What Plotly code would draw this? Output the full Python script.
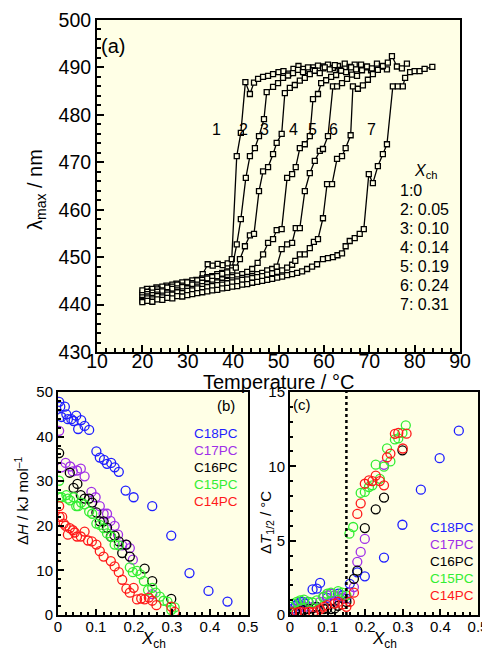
import plotly.graph_objects as go

# ---------------- Panel (a) data: lambda_max vs temperature ----------------
T1 = [20.0, 21.0, 22.0, 23.1, 24.2, 25.3, 26.4, 27.5, 28.6, 29.7, 30.8, 31.9, 33.3, 34.4, 35.5, 36.6, 37.7, 38.8, 39.7, 40.8, 41.7, 42.7, 43.7, 44.6, 45.5, 46.6, 47.7, 48.8, 50.0, 51.1, 52.2, 53.3, 54.4, 55.5, 56.6, 57.7, 58.8, 59.9]
L1 = [442.5, 443.3, 442.8, 443.6, 443.2, 444.0, 443.6, 444.4, 444.1, 444.8, 444.5, 445.2, 446.4, 448.5, 448.2, 448.6, 448.3, 448.7, 449.6, 471.3, 476.2, 486.9, 484.4, 486.8, 487.6, 488.0, 488.2, 488.6, 489.0, 489.2, 488.7, 489.7, 490.3, 489.7, 489.2, 490.0, 489.5, 490.2]

T2 = [20.0, 21.1, 22.2, 23.3, 24.4, 25.5, 26.6, 27.7, 28.8, 29.9, 31.0, 32.1, 33.2, 34.3, 35.4, 36.5, 37.6, 38.7, 39.8, 40.8, 41.7, 42.8, 43.7, 44.8, 45.7, 46.8, 47.4, 48.8, 49.9, 51.0, 52.1, 53.2, 54.3, 55.4, 56.5, 57.6, 58.7, 59.8, 60.9, 62.0, 63.1]
L2 = [443.0, 442.4, 443.3, 442.9, 443.8, 443.5, 444.2, 444.0, 444.7, 444.5, 445.1, 444.9, 445.5, 445.8, 446.0, 446.4, 446.7, 447.0, 447.8, 452.7, 458.0, 466.7, 471.3, 473.0, 475.5, 479.1, 484.8, 485.9, 486.7, 487.8, 488.3, 488.8, 489.5, 489.0, 490.0, 489.4, 490.4, 489.8, 490.6, 489.9, 490.3]

T3 = [20.0, 21.1, 22.2, 23.3, 24.4, 25.5, 26.6, 27.7, 28.8, 29.9, 31.0, 32.1, 33.2, 34.3, 35.4, 36.5, 37.6, 38.7, 39.8, 40.6, 41.5, 42.6, 43.7, 44.6, 45.7, 46.6, 47.7, 48.8, 49.6, 50.7, 51.4, 52.5, 53.6, 54.7, 55.8, 56.9, 58.0, 59.1, 60.2, 61.3, 62.4, 63.5, 64.6, 65.7, 66.8]
L3 = [442.0, 442.7, 442.5, 443.2, 443.0, 443.6, 443.8, 444.2, 444.0, 444.7, 444.5, 445.1, 445.2, 445.5, 445.8, 446.0, 446.5, 446.8, 447.2, 447.8, 449.6, 452.3, 454.6, 454.9, 463.9, 468.1, 469.0, 471.7, 474.1, 476.0, 484.6, 485.7, 486.3, 487.2, 487.8, 488.6, 489.3, 488.8, 490.0, 489.6, 490.5, 489.5, 490.8, 490.1, 490.6]

T4 = [20.0, 21.1, 22.2, 23.3, 24.4, 25.5, 26.6, 27.7, 28.8, 29.9, 31.0, 32.1, 33.2, 34.3, 35.4, 36.5, 37.6, 38.7, 39.8, 40.9, 42.0, 43.1, 44.2, 45.4, 46.6, 47.7, 48.8, 49.6, 50.7, 51.9, 53.0, 53.8, 54.7, 55.8, 56.9, 57.6, 58.7, 59.4, 60.5, 61.6, 62.7, 63.8, 64.9, 66.0, 67.1, 68.2, 69.3, 70.4]
L4 = [441.5, 442.2, 442.0, 442.7, 442.8, 442.6, 443.3, 443.4, 443.7, 443.5, 444.2, 444.2, 444.6, 444.4, 445.0, 444.9, 445.3, 445.2, 445.8, 446.1, 446.4, 446.9, 447.5, 448.8, 450.6, 453.0, 453.8, 455.7, 455.9, 466.7, 467.5, 469.0, 473.0, 473.8, 475.5, 483.3, 484.4, 486.7, 487.3, 488.0, 488.4, 489.3, 489.0, 490.0, 489.6, 490.6, 490.0, 489.4]

T5 = [20.0, 21.1, 22.2, 23.3, 24.4, 25.5, 26.6, 27.7, 28.8, 29.9, 31.0, 32.1, 33.2, 34.3, 35.4, 36.5, 37.6, 38.7, 39.8, 40.9, 42.0, 43.1, 44.2, 45.3, 46.4, 47.5, 48.6, 49.6, 50.7, 51.9, 53.0, 53.8, 54.7, 55.8, 56.9, 58.0, 59.1, 59.8, 60.9, 62.0, 62.9, 64.0, 65.1, 66.2, 67.3, 68.4, 69.5, 70.6, 71.7, 72.8, 73.9]
L5 = [441.0, 441.7, 441.4, 442.1, 441.9, 442.5, 442.3, 443.0, 442.8, 443.4, 443.3, 443.8, 443.9, 444.3, 444.2, 444.7, 444.6, 445.0, 445.1, 445.3, 445.6, 445.8, 446.0, 446.4, 446.7, 447.2, 447.5, 448.0, 451.7, 452.7, 453.0, 456.1, 456.1, 463.9, 467.7, 470.3, 472.4, 472.8, 475.5, 486.0, 486.0, 486.7, 487.6, 488.5, 488.2, 489.4, 490.2, 489.8, 490.8, 490.2, 489.6]

T6 = [20.0, 21.1, 22.2, 23.3, 24.4, 25.5, 26.6, 27.7, 28.8, 29.9, 31.0, 32.1, 33.2, 34.3, 35.4, 36.5, 37.6, 38.7, 39.8, 40.9, 42.0, 43.1, 44.2, 45.3, 46.4, 47.5, 48.6, 49.7, 50.8, 51.9, 53.0, 53.7, 54.7, 55.8, 56.9, 57.8, 58.7, 59.8, 60.7, 61.8, 62.9, 64.0, 64.8, 65.9, 66.4, 67.5, 68.6, 69.7, 70.8, 71.9, 73.0, 74.1, 75.0, 76.1, 77.2, 78.3]
L6 = [440.8, 441.3, 441.1, 441.8, 441.5, 442.1, 442.1, 442.6, 442.4, 442.9, 443.0, 443.4, 443.3, 443.7, 443.9, 444.1, 444.2, 444.5, 444.7, 444.9, 445.2, 445.3, 445.6, 445.8, 446.0, 446.3, 446.6, 446.9, 447.2, 447.8, 448.4, 449.2, 450.6, 450.6, 451.9, 453.2, 453.8, 458.2, 465.4, 465.4, 470.7, 471.3, 473.0, 475.7, 486.0, 485.5, 486.2, 487.4, 488.6, 489.5, 490.3, 491.0, 492.4, 490.2, 489.8, 490.8]

T7 = [20.0, 21.1, 22.2, 23.3, 24.4, 25.5, 26.6, 27.7, 28.8, 29.9, 31.0, 32.1, 33.2, 34.3, 35.4, 36.5, 37.6, 38.7, 39.8, 40.9, 42.0, 43.1, 44.2, 45.3, 46.4, 47.5, 48.6, 49.7, 50.8, 51.9, 53.0, 54.1, 55.2, 56.3, 57.4, 58.5, 59.8, 60.9, 62.0, 63.0, 64.0, 64.8, 65.7, 66.8, 67.9, 68.8, 69.9, 70.8, 71.9, 73.0, 73.9, 75.2, 76.3, 77.4, 77.9, 79.0, 80.0, 81.1, 82.2, 83.9]
L7 = [440.5, 440.8, 440.6, 441.1, 441.0, 441.4, 441.3, 441.8, 441.7, 442.0, 442.2, 442.4, 442.6, 442.8, 443.0, 443.1, 443.4, 443.5, 443.8, 443.9, 444.2, 444.3, 444.6, 444.8, 445.0, 445.2, 445.4, 445.7, 445.9, 446.2, 446.4, 446.7, 447.0, 447.5, 448.0, 448.5, 449.6, 449.8, 450.0, 450.4, 450.8, 452.3, 453.4, 454.0, 454.9, 455.9, 467.5, 465.6, 469.2, 471.7, 473.8, 486.0, 486.0, 486.0, 487.8, 489.0, 489.2, 489.2, 489.7, 490.1]

curve_T = [T1, T2, T3, T4, T5, T6, T7]
curve_L = [L1, L2, L3, L4, L5, L6, L7]
curve_ids = ["1", "2", "3", "4", "5", "6", "7"]
xch_values = ["0", "0.05", "0.10", "0.14", "0.19", "0.24", "0.31"]
label_T = [36.4, 42.2, 47.0, 53.2, 57.6, 62.2, 70.4]
label_L = [477.0] * 7

# ---------------- Panel (b) data: Delta H vs Xch ----------------
b18_x = [0.003, 0.006, 0.018, 0.009, 0.022, 0.026, 0.035, 0.041, 0.048, 0.053, 0.061, 0.070, 0.082, 0.101, 0.110, 0.121, 0.129, 0.140, 0.149, 0.160, 0.178, 0.199, 0.248, 0.298, 0.346, 0.396, 0.446]
b18_y = [47.8, 46.7, 46.7, 44.4, 45.0, 43.9, 43.9, 43.5, 44.7, 41.7, 43.7, 42.4, 41.5, 36.7, 35.3, 34.8, 33.9, 34.1, 33.1, 32.1, 27.9, 26.4, 24.4, 17.8, 9.4, 5.4, 3.0]
b17_x = [0.003, 0.009, 0.020, 0.032, 0.039, 0.050, 0.060, 0.070, 0.088, 0.099, 0.110, 0.120, 0.129, 0.138, 0.149, 0.158, 0.169, 0.178, 0.189, 0.197, 0.248]
b17_y = [41.3, 33.1, 34.1, 33.3, 32.2, 32.4, 32.8, 31.1, 27.6, 26.4, 24.4, 22.7, 22.7, 21.1, 20.0, 18.0, 15.6, 15.8, 15.0, 12.4, 4.7]
b16_x = [0.003, 0.031, 0.041, 0.051, 0.060, 0.070, 0.082, 0.090, 0.101, 0.110, 0.120, 0.129, 0.139, 0.149, 0.160, 0.169, 0.180, 0.189, 0.228, 0.248, 0.298]
b16_y = [36.3, 31.9, 28.5, 29.4, 26.9, 26.1, 26.1, 25.2, 23.0, 21.0, 21.0, 19.6, 17.6, 17.8, 16.5, 13.9, 15.8, 13.1, 10.4, 7.6, 3.6]
b15_x = [0.003, 0.003, 0.009, 0.022, 0.026, 0.032, 0.041, 0.048, 0.053, 0.061, 0.070, 0.082, 0.090, 0.101, 0.110, 0.120, 0.129, 0.140, 0.149, 0.160, 0.189, 0.197, 0.208, 0.217, 0.226, 0.237, 0.248, 0.257, 0.268, 0.278, 0.288, 0.298, 0.307]
b15_y = [30.1, 26.4, 26.4, 26.9, 26.1, 25.7, 26.4, 24.4, 24.4, 25.2, 24.8, 23.2, 22.7, 20.5, 20.2, 19.5, 18.3, 17.6, 15.8, 15.6, 10.7, 9.6, 9.9, 9.1, 7.6, 5.6, 6.1, 5.0, 4.1, 3.2, 3.0, 1.1, 1.7]
b14_x = [0.003, 0.004, 0.011, 0.015, 0.020, 0.026, 0.031, 0.039, 0.044, 0.050, 0.060, 0.070, 0.079, 0.089, 0.101, 0.110, 0.120, 0.139, 0.149, 0.160, 0.169, 0.180, 0.189, 0.199, 0.208, 0.219, 0.228, 0.239, 0.248, 0.259, 0.298, 0.307]
b14_y = [24.4, 22.0, 22.0, 20.5, 20.0, 18.0, 19.5, 19.0, 18.5, 17.6, 17.6, 18.7, 16.7, 16.5, 15.8, 14.3, 13.1, 12.1, 10.9, 9.6, 7.9, 5.9, 5.0, 6.1, 3.5, 3.7, 3.5, 3.9, 3.2, 2.2, 1.9, 0.7]

# ---------------- Panel (c) data: Delta T1/2 vs Xch ----------------
c18_x = [0.004, 0.009, 0.016, 0.022, 0.028, 0.035, 0.040, 0.049, 0.060, 0.071, 0.080, 0.099, 0.109, 0.119, 0.128, 0.139, 0.150, 0.159, 0.179, 0.199, 0.250, 0.299, 0.348, 0.398, 0.449]
c18_y = [0.26, 0.44, 0.66, 0.77, 0.88, 0.88, 0.77, 0.88, 1.72, 1.77, 2.16, 1.15, 0.93, 0.93, 1.43, 1.32, 1.10, 2.10, 2.87, 2.60, 3.86, 6.07, 8.43, 10.55, 12.4]
c17_x = [0.004, 0.013, 0.022, 0.031, 0.040, 0.060, 0.071, 0.080, 0.090, 0.099, 0.109, 0.119, 0.128, 0.139, 0.158, 0.170, 0.179, 0.188, 0.199, 0.250]
c17_y = [0.22, 0.33, 0.44, 0.51, 0.55, 0.55, 0.51, 0.88, 1.21, 1.32, 1.43, 1.32, 1.21, 1.15, 1.50, 1.88, 3.58, 4.24, 5.12, 10.1]
c16_x = [0.004, 0.013, 0.025, 0.037, 0.049, 0.060, 0.071, 0.090, 0.099, 0.109, 0.119, 0.128, 0.150, 0.170, 0.179, 0.199, 0.228, 0.250, 0.299]
c16_y = [0.18, 0.22, 0.26, 0.33, 0.40, 0.44, 0.55, 0.40, 0.44, 0.40, 0.44, 0.62, 0.88, 2.43, 2.98, 5.85, 7.11, 7.90, 11.08]
c15_x = [0.000, 0.009, 0.018, 0.027, 0.037, 0.049, 0.060, 0.071, 0.088, 0.099, 0.109, 0.128, 0.139, 0.150, 0.158, 0.168, 0.188, 0.199, 0.210, 0.219, 0.228, 0.239, 0.250, 0.258, 0.267, 0.279, 0.288, 0.299, 0.308]
c15_y = [0.55, 0.77, 0.88, 0.99, 1.04, 0.88, 0.84, 0.99, 1.21, 1.43, 1.50, 1.61, 1.50, 1.32, 5.47, 5.92, 8.21, 8.28, 8.61, 8.72, 10.11, 9.16, 9.98, 11.21, 10.33, 11.81, 11.88, 12.25, 12.76]
c14_x = [0.004, 0.018, 0.028, 0.040, 0.051, 0.062, 0.071, 0.080, 0.090, 0.099, 0.119, 0.128, 0.139, 0.150, 0.159, 0.170, 0.179, 0.188, 0.199, 0.210, 0.219, 0.228, 0.239, 0.250, 0.258, 0.267, 0.279, 0.288, 0.300, 0.310]
c14_y = [0.18, 0.18, 0.22, 0.18, 0.22, 0.18, 0.26, 0.38, 0.55, 0.66, 0.77, 0.88, 0.71, 0.55, 0.88, 1.50, 6.80, 7.51, 8.83, 9.05, 9.01, 9.38, 9.01, 8.72, 10.60, 10.86, 12.19, 12.25, 11.20, 12.20]

series_names = ["C18PC", "C17PC", "C16PC", "C15PC", "C14PC"]
series_colors = ["#1f1fff", "#a030e8", "#000000", "#33ee33", "#ff1a1a"]
b_x = [b18_x, b17_x, b16_x, b15_x, b14_x]
b_y = [b18_y, b17_y, b16_y, b15_y, b14_y]
c_x = [c18_x, c17_x, c16_x, c15_x, c14_x]
c_y = [c18_y, c17_y, c16_y, c15_y, c14_y]

BG = "#ffffe6"
FONT = "Liberation Sans, Arial, sans-serif"

fig = go.Figure()

for T, L in zip(curve_T, curve_L):
    fig.add_trace(go.Scatter(
        x=T, y=L, mode="lines+markers", xaxis="x", yaxis="y",
        line=dict(color="black", width=1.3),
        marker=dict(symbol="square", size=5, color=BG, line=dict(color="black", width=1.3)),
        showlegend=False, hoverinfo="skip"))

for xs, ys, col in zip(b_x, b_y, series_colors):
    fig.add_trace(go.Scatter(
        x=xs, y=ys, mode="markers", xaxis="x2", yaxis="y2",
        marker=dict(symbol="circle-open", size=9, color=col, line=dict(color=col, width=1.3)),
        showlegend=False, hoverinfo="skip"))

for xs, ys, col in zip(c_x, c_y, series_colors):
    fig.add_trace(go.Scatter(
        x=xs, y=ys, mode="markers", xaxis="x3", yaxis="y3",
        marker=dict(symbol="circle-open", size=9, color=col, line=dict(color=col, width=1.3)),
        showlegend=False, hoverinfo="skip"))

# The page body adds an 8 px margin, so the figure is made 8 px smaller and
# all page-pixel positions below are shifted by that offset.
OFF = 8
W, H = 490 - OFF, 650 - OFF
def px_x(p):
    return (p - OFF) / W
def px_y(p):
    return 1 - (p - OFF) / H

axis_common = dict(showline=True, linewidth=2, linecolor="black", mirror=True,
                   ticks="inside", tickcolor="black", tickwidth=1.5, showgrid=False,
                   zeroline=False, fixedrange=True, automargin=False)

fig.update_layout(
    width=W, height=H, margin=dict(l=0, r=0, t=0, b=0, autoexpand=False),
    paper_bgcolor="white", plot_bgcolor=BG,
    font=dict(family=FONT, color="black"),
    xaxis=dict(domain=[px_x(97), px_x(460)], range=[10, 90], dtick=10, ticklen=7,
               tickfont=dict(size=19.5), anchor="y", ticklabelstandoff=-9,
               minor=dict(dtick=2, ticks="inside", ticklen=4, tickcolor="black"), **axis_common),
    yaxis=dict(domain=[px_y(352), px_y(20)], range=[430, 500], dtick=10, ticklen=7,
               tickfont=dict(size=19.5), anchor="x",
               minor=dict(dtick=2, ticks="inside", ticklen=4, tickcolor="black"), **axis_common),
    xaxis2=dict(domain=[px_x(58), px_x(248)], range=[0, 0.5], dtick=0.1, ticklen=6,
                tickfont=dict(size=15), anchor="y2", ticklabelstandoff=-3,
                minor=dict(dtick=0.02, ticks="inside", ticklen=3, tickcolor="black"), **axis_common),
    yaxis2=dict(domain=[px_y(615), px_y(392)], range=[0, 50], dtick=10, ticklen=6,
                tickfont=dict(size=15), anchor="x2",
                minor=dict(dtick=2, ticks="inside", ticklen=3, tickcolor="black"), **axis_common),
    xaxis3=dict(domain=[px_x(290), px_x(478)], range=[0, 0.5], dtick=0.1, ticklen=6,
                tickfont=dict(size=15), anchor="y3", ticklabelstandoff=-3,
                minor=dict(dtick=0.02, ticks="inside", ticklen=3, tickcolor="black"), **axis_common),
    yaxis3=dict(domain=[px_y(615), px_y(392)], range=[0, 15], dtick=5, ticklen=6,
                tickfont=dict(size=15), anchor="x3",
                minor=dict(dtick=1, ticks="inside", ticklen=3, tickcolor="black"), **axis_common),
)

ann = []
def note(text, x, y, size, xref="paper", yref="paper", xanchor="center", angle=0, color="black"):
    if xref == "paper":
        x = px_x(x)
    if yref == "paper":
        y = px_y(y)
    ann.append(dict(text=text, x=x, y=y, xref=xref, yref=yref, xanchor=xanchor,
                    yanchor="middle", showarrow=False, textangle=angle,
                    font=dict(size=size, color=color)))

# panel (a) texts
note("Temperature / °C", 278, 382, 20)
note("λ<sub>max</sub> / nm", 37, 190, 20, angle=-90)
note("(a)", 10.5, 494.5, 20, xref="x", yref="y", xanchor="left")
for cid, tx, ly in zip(curve_ids, label_T, label_L):
    note(cid, tx, ly, 16, xref="x", yref="y")
note("<i>X</i><sub>ch</sub>", 82.5, 468.0, 16, xref="x", yref="y")
for i, (cid, xv) in enumerate(zip(curve_ids, xch_values)):
    txt = f"{cid}:{xv}" if i == 0 else f"{cid}: {xv}"
    note(txt, 76.3, 464.0 - i * 4.0, 16, xref="x", yref="y", xanchor="left")

# panel (b) texts
note("Δ<i>H</i> / kJ mol<sup>–1</sup>", 21, 501, 15, angle=-90)
note("<i>X</i><sub>ch</sub>", 153, 640, 17)
note("(b)", 226, 405, 15)
for i, (nm, col) in enumerate(zip(series_names, series_colors)):
    note(nm, 192, 433 + i * 17, 13.5, xanchor="left", color=col)

# panel (c) texts
note("Δ<i>T</i><sub>1/2</sub> / °C", 266, 523, 15, angle=-90)
note("<i>X</i><sub>ch</sub>", 384, 640, 17)
note("(c)", 302, 404, 15)
for i, (nm, col) in enumerate(zip(series_names, series_colors)):
    note(nm, 428, 527 + i * 17, 13.5, xanchor="left", color=col)

fig.update_layout(annotations=ann)

fig.add_shape(type="line", x0=0.15, x1=0.15, y0=0, y1=15, xref="x3", yref="y3",
              line=dict(color="black", width=2.5, dash="dot"))

fig.write_html("out.html")
